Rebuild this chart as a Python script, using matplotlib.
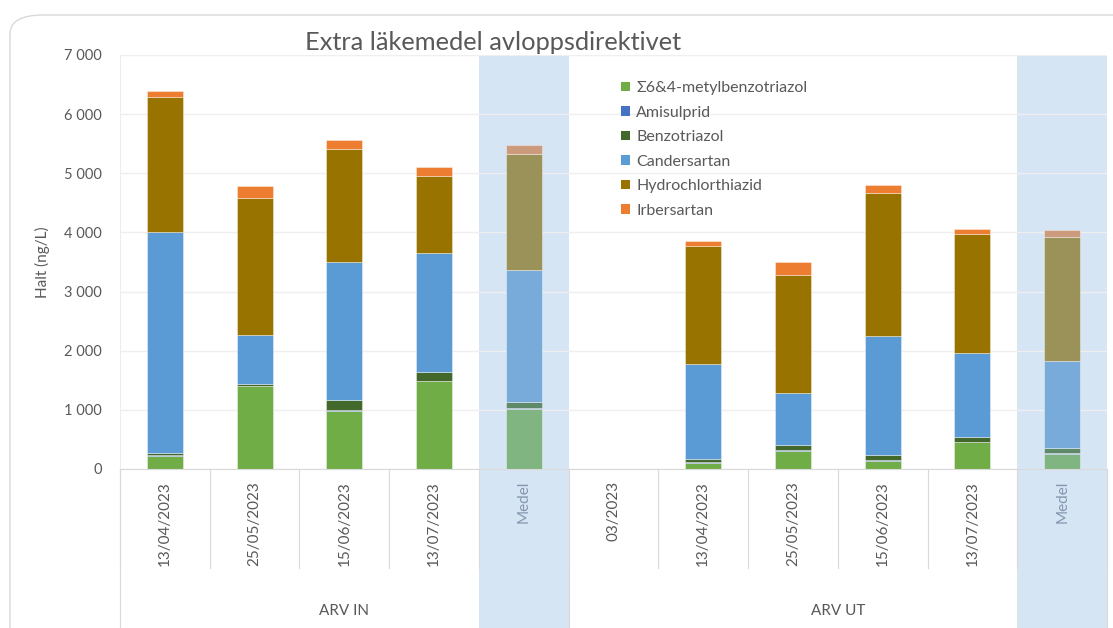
import matplotlib
matplotlib.use("Agg")
import matplotlib.pyplot as plt
from matplotlib.patches import Patch, Rectangle, FancyBboxPatch
from matplotlib.lines import Line2D
from matplotlib.transforms import blended_transform_factory
import numpy as np

# ---- data -------------------------------------------------------------
categories = ["13/04/2023", "25/05/2023", "15/06/2023", "13/07/2023", "Medel",
              "03/2023", "13/04/2023", "25/05/2023", "15/06/2023", "13/07/2023", "Medel"]
groups = ["ARV IN", "ARV UT"]
group_sizes = [5, 6]
is_mean = [False, False, False, False, True, False, False, False, False, False, True]

series_names = ["Σ6&4-metylbenzotriazol", "Amisulprid", "Benzotriazol",
                "Candersartan", "Hydrochlorthiazid", "Irbersartan"]
metylbenzotriazol = [226, 1398, 985, 1484, 1019, 0, 105, 311, 141, 459, 260]
amisulprid        = [10, 5, 5, 5, 6, 0, 12, 5, 5, 5, 7]
benzotriazol      = [41, 41, 182, 154, 108, 0, 53, 86, 97, 80, 84]
candersartan      = [3733, 827, 2323, 2010, 2231, 0, 1602, 884, 2011, 1421, 1472]
hydrochlorthiazid = [2280, 2311, 1908, 1303, 1954, 0, 1994, 1998, 2418, 2005, 2107]
irbersartan       = [100, 203, 153, 153, 153, 0, 85, 216, 136, 96, 113]

series = [metylbenzotriazol, amisulprid, benzotriazol,
          candersartan, hydrochlorthiazid, irbersartan]
colors = ["#70AD47", "#4472C4", "#43682B", "#5B9BD5", "#997300", "#ED7D31"]
mean_colors = ["#80B581", "#6F8FC8", "#5F8A69", "#78AADA", "#9A9259", "#CC9A7C"]

# ---- layout helpers ---------------------------------------------------
W, H = 1113, 628
fig = plt.figure(figsize=(W / 100, H / 100), dpi=100)
fig.patch.set_facecolor("white")

def fy(py):
    return (H - py) / H

def fx(px):
    return px / W

plot_left, plot_right, plot_top, plot_bottom = 120, 1107, 55, 469
ax = fig.add_axes([fx(plot_left), fy(plot_bottom),
                   fx(plot_right) - fx(plot_left), fy(plot_top) - fy(plot_bottom)])
ax.set_facecolor("none")

font = ["Lato", "DejaVu Sans"]
text_col = "#595959"

# chart frame with rounded corners
frame = FancyBboxPatch((fx(10), fy(700)), fx(1200) - fx(10), fy(15) - fy(700),
                       boxstyle="round,pad=0,rounding_size=0.03",
                       transform=fig.transFigure, facecolor="white",
                       edgecolor="#D9D9D9", linewidth=1.0, zorder=-10)
fig.patches.append(frame)

n = len(categories)
x = np.arange(n)
ax.set_xlim(-0.5, n - 0.5)
ax.set_ylim(0, 7000)

# highlighted mean columns, running from the top of the plot down through the labels
trans_xfig = blended_transform_factory(ax.transData, fig.transFigure)
for i, m in enumerate(is_mean):
    if m:
        ax.add_patch(Rectangle((i - 0.5, fy(H)), 1.0, fy(plot_top) - fy(H),
                               transform=trans_xfig, facecolor="#D6E5F4",
                               edgecolor="none", zorder=0.2, clip_on=False))

# stacked bars
bottom = np.zeros(n)
width = 0.4
for vals, c, mc, name in zip(series, colors, mean_colors, series_names):
    vals = np.array(vals, dtype=float)
    cols = [mc if m else c for m in is_mean]
    ax.bar(x, vals, width=width, bottom=bottom, color=cols,
           edgecolor=(1, 1, 1, 0.45), linewidth=0.6, zorder=2, label=name)
    bottom += vals

# y axis
ax.set_yticks(np.arange(0, 7001, 1000))
ax.set_yticklabels([f"{int(v):,}".replace(",", " ") for v in np.arange(0, 7001, 1000)],
                   fontfamily=font, fontsize=10.5, color=text_col)
ax.tick_params(axis="y", length=0, pad=13)
ax.yaxis.grid(True, color="#EFEFEF", linewidth=1.0, zorder=0.5)
ax.set_axisbelow(True)
ax.set_xticks([])
for s in ["top", "right"]:
    ax.spines[s].set_visible(False)
ax.spines["left"].set_color("#EDEDED")
ax.spines["bottom"].set_color("#D9D9D9")
ax.spines["bottom"].set_zorder(3)

fig.text(fx(42), fy(262), "Halt (ng/L)", rotation=90, ha="center", va="center",
         fontfamily=font, fontsize=11, color=text_col)

# category table under the axis
sep_col = "#D9D9D9"
date_bottom = 568
for b in np.arange(-0.5, n, 1.0):
    ax.add_line(Line2D([b, b], [fy(plot_bottom), fy(date_bottom)], transform=trans_xfig,
                       color=sep_col, linewidth=0.8, clip_on=False, zorder=1))
edges = np.concatenate([[0], np.cumsum(group_sizes)]) - 0.5
for b in edges:
    ax.add_line(Line2D([b, b], [fy(plot_bottom), fy(H)], transform=trans_xfig,
                       color=sep_col, linewidth=0.8, clip_on=False, zorder=1))

for i, (lab, m) in enumerate(zip(categories, is_mean)):
    ax.text(i, fy(481), lab, transform=trans_xfig, rotation=90, ha="center", va="top",
            fontfamily=font, fontsize=11, color="#8497B0" if m else text_col)

for g, a, b in zip(groups, edges[:-1], edges[1:]):
    ax.text((a + b) / 2, fy(611), g, transform=trans_xfig, ha="center", va="center",
            fontfamily=font, fontsize=11, color=text_col)

# title
fig.text(fx(493), fy(43), "Extra läkemedel avloppsdirektivet", ha="center", va="center",
         fontfamily=font, fontsize=18.3, color=text_col)

# legend
handles = [Patch(facecolor=c, edgecolor="none", label=nm) for c, nm in zip(colors, series_names)]
leg = ax.legend(handles=handles, loc="upper left", bbox_to_anchor=(fx(621), fy(81)),
                bbox_transform=fig.transFigure, frameon=False, handlelength=0.55,
                handleheight=0.55, handletextpad=0.4, labelspacing=0.66, borderpad=0,
                borderaxespad=0, prop={"family": font, "size": 11.5})
for t in leg.get_texts():
    t.set_color(text_col)

fig.savefig("out.png", dpi=100, facecolor="white")
